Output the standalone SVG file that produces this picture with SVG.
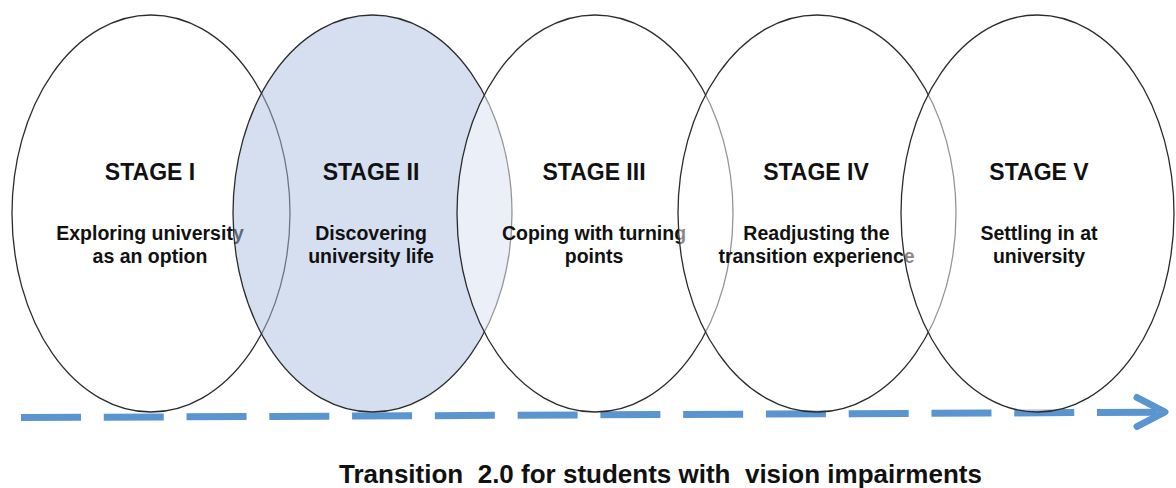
<svg xmlns="http://www.w3.org/2000/svg" width="1176" height="488" viewBox="0 0 1176 488">
  <style>
    .stage { stroke: #2b2b2b; stroke-width: 1.3; }
    .plain { fill: #ffffff; fill-opacity: 0.5; }
    .focus { fill: #aec0e0; fill-opacity: 0.5; }
    .head { font-family: "Liberation Sans", Arial, sans-serif; font-weight: bold; font-size: 23px; fill: #111; text-anchor: middle; }
    .body { font-family: "Liberation Sans", Arial, sans-serif; font-weight: bold; font-size: 19.5px; fill: #111; text-anchor: middle; }
    .title { font-family: "Liberation Sans", Arial, sans-serif; font-weight: bold; font-size: 26px; fill: #111; }
    .flow { stroke: #5a95d0; stroke-width: 7; fill: none; }
  </style>
  <rect width="1176" height="488" fill="#ffffff"/>

  <!-- timeline arrow under the stages -->
  <g id="connectors">
    <path class="flow" d="M21 417.6 L1160 412.2" stroke-dasharray="60 22.77"/>
    <polyline class="flow" points="1137,397.5 1165,412 1137,426.5" stroke-linecap="round" stroke-linejoin="round"/>
  </g>

  <g id="stage1">
    <ellipse class="stage plain" cx="151" cy="213.5" rx="139" ry="198.5"/>
    <text class="head" x="150" y="180">STAGE I</text>
    <text class="body" x="150" y="240">Exploring university</text>
    <text class="body" x="150" y="262.5">as an option</text>
  </g>

  <g id="stage2">
    <ellipse class="stage focus" cx="372.5" cy="213.5" rx="139.5" ry="198.5"/>
    <text class="head" x="371" y="180">STAGE II</text>
    <text class="body" x="371" y="240">Discovering</text>
    <text class="body" x="371" y="262.5">university life</text>
  </g>

  <g id="stage3">
    <ellipse class="stage plain" cx="595" cy="213.5" rx="138" ry="198.5"/>
    <text class="head" x="594" y="180">STAGE III</text>
    <text class="body" x="594" y="240">Coping with turning</text>
    <text class="body" x="594" y="262.5">points</text>
  </g>

  <g id="stage4">
    <ellipse class="stage plain" cx="817" cy="213.5" rx="139" ry="198.5"/>
    <text class="head" x="816" y="180">STAGE IV</text>
    <text class="body" x="816.5" y="240">Readjusting the</text>
    <text class="body" x="816.5" y="262.5">transition experience</text>
  </g>

  <g id="stage5">
    <ellipse class="stage plain" cx="1037.5" cy="213.5" rx="136.5" ry="198.5"/>
    <text class="head" x="1039" y="180">STAGE V</text>
    <text class="body" x="1039" y="240">Settling in at</text>
    <text class="body" x="1039" y="262.5">university</text>
  </g>

  <text id="caption" class="title" x="339" y="483" xml:space="preserve">Transition  2.0 for students with  vision impairments</text>
</svg>
